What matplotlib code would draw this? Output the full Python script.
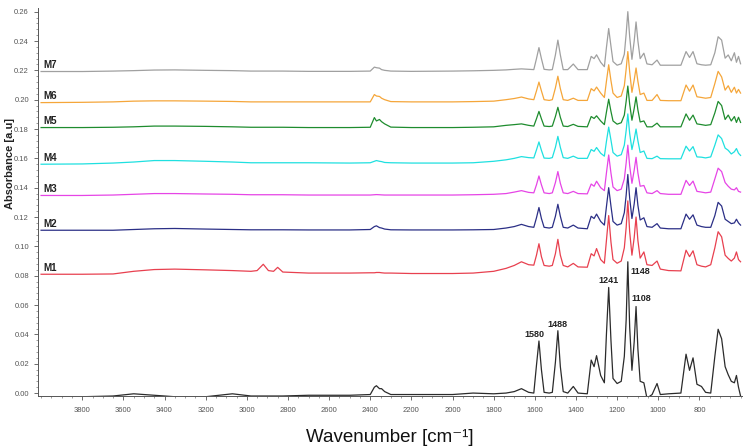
import matplotlib
matplotlib.use("Agg")
import matplotlib.pyplot as plt
from matplotlib.ticker import AutoMinorLocator, FormatStrFormatter

plt.rcParams['font.family'] = ['Liberation Sans', 'DejaVu Sans']

# wavenumbers (cm-1) shared by all spectra
wavenumber = [4000, 3800, 3650, 3550, 3450, 3350, 3200, 3070, 2980,
              2950, 2920, 2895, 2870, 2850, 2825, 2700, 2500, 2400,
              2380, 2370, 2355, 2345, 2330, 2300, 2200, 2000, 1900,
              1800, 1740, 1700, 1665, 1630, 1605, 1592, 1580, 1568, 1555, 1530,
              1515, 1500, 1488, 1476, 1462, 1440, 1413, 1390, 1345, 1326, 1312,
              1300, 1280, 1262, 1252, 1241, 1230, 1220, 1200, 1180, 1165, 1156, 1148, 1139,
              1128, 1117, 1108, 1099, 1088, 1070, 1055, 1030, 1006, 990, 950,
              890, 865, 848, 831, 812, 790, 770, 745, 725,
              709, 692, 675, 660, 645, 630, 620, 610, 600]

m0 = [-0.0025, -0.0025, -0.002, -0.0005, -0.0015, -0.0025, -0.0025, -0.0005, -0.002,
      -0.002, -0.002, -0.002, -0.002, -0.002, -0.002, -0.0015, -0.0015, -0.001,
      0.004, 0.005, 0.003, 0.003, 0.001, -0.001, -0.001, -0.001, 0.000,
      -0.0005, 0.000, 0.001, 0.003, 0.0005, 0.000, 0.019, 0.0355, 0.016, 0.0005, 0.000,
      0.0005, 0.021, 0.0425, 0.018, 0.001, 0.000, 0.0045, 0.000, -0.0005, 0.0225, 0.018,
      0.0255, 0.012, 0.007, 0.040, 0.072, 0.036, 0.010, 0.0065, 0.008, 0.025, 0.050, 0.0895, 0.045,
      0.0155, 0.035, 0.059, 0.030, 0.008, 0.007, -0.0035, -0.001, 0.0065, -0.001, -0.0005,
      0.000, 0.0265, 0.0155, 0.024, 0.006, 0.0045, 0.0005, 0.000, 0.025,
      0.0435, 0.037, 0.018, 0.0125, 0.008, 0.007, 0.012, 0.004, -0.002]

m1 = [0.081, 0.081, 0.0812, 0.083, 0.0842, 0.0845, 0.084, 0.0835, 0.083,
      0.0835, 0.0878, 0.0835, 0.083, 0.0857, 0.0825, 0.0818, 0.0818, 0.082,
      0.082, 0.0822, 0.0822, 0.082, 0.0818, 0.0818, 0.0815, 0.0815, 0.0818,
      0.083, 0.085, 0.087, 0.0895, 0.0875, 0.0872, 0.094, 0.1018, 0.093, 0.087, 0.0865,
      0.087, 0.095, 0.1048, 0.094, 0.087, 0.086, 0.0884, 0.086, 0.0858, 0.095, 0.0935,
      0.0985, 0.091, 0.0885, 0.104, 0.121, 0.103, 0.091, 0.0885, 0.090, 0.099, 0.113, 0.131, 0.110,
      0.094, 0.106, 0.120, 0.104, 0.092, 0.0962, 0.0875, 0.087, 0.090, 0.0845, 0.0835,
      0.0833, 0.0974, 0.093, 0.097, 0.0875, 0.0865, 0.086, 0.0875, 0.099,
      0.110, 0.1065, 0.094, 0.0918, 0.090, 0.092, 0.0962, 0.091, 0.0895]

m2 = [0.111, 0.111, 0.111, 0.1115, 0.112, 0.1122, 0.1118, 0.1115, 0.1113,
      0.1113, 0.1113, 0.1113, 0.1113, 0.1113, 0.1113, 0.1112, 0.1112, 0.1115,
      0.1135, 0.114, 0.1128, 0.1125, 0.1118, 0.1113, 0.1112, 0.1112, 0.1113,
      0.1115, 0.1125, 0.1135, 0.115, 0.1135, 0.113, 0.1195, 0.1265, 0.119, 0.113, 0.1125,
      0.113, 0.1205, 0.1287, 0.1205, 0.113, 0.1125, 0.1145, 0.1125, 0.112, 0.1205, 0.119,
      0.122, 0.117, 0.1145, 0.127, 0.140, 0.1275, 0.117, 0.1145, 0.1155, 0.123, 0.135, 0.149, 0.133,
      0.119, 0.129, 0.140, 0.128, 0.118, 0.1195, 0.1135, 0.113, 0.1155, 0.1125, 0.112,
      0.112, 0.122, 0.1185, 0.1215, 0.1145, 0.1135, 0.113, 0.113, 0.121,
      0.130, 0.1275, 0.1185, 0.117, 0.1155, 0.116, 0.1185, 0.116, 0.1145]

m3 = [0.1347, 0.1347, 0.135, 0.1355, 0.136, 0.136, 0.1357, 0.1355, 0.1352,
      0.1352, 0.1352, 0.1352, 0.1352, 0.1352, 0.1352, 0.135, 0.135, 0.135,
      0.1352, 0.1353, 0.1352, 0.1351, 0.135, 0.135, 0.135, 0.135, 0.1352,
      0.1355, 0.136, 0.137, 0.138, 0.1368, 0.1365, 0.142, 0.148, 0.142, 0.1365, 0.136,
      0.1365, 0.1435, 0.151, 0.143, 0.1365, 0.136, 0.1375, 0.136, 0.1358, 0.1425, 0.141,
      0.1444, 0.140, 0.138, 0.150, 0.1623, 0.150, 0.1405, 0.138, 0.139, 0.146, 0.157, 0.169, 0.155,
      0.143, 0.152, 0.1607, 0.150, 0.141, 0.1415, 0.1365, 0.136, 0.138, 0.136, 0.1355,
      0.1355, 0.145, 0.1415, 0.1445, 0.1375, 0.137, 0.1365, 0.137, 0.146,
      0.1533, 0.151, 0.1435, 0.141, 0.139, 0.1385, 0.140, 0.1375, 0.137]

m4 = [0.156, 0.1562, 0.1568, 0.1575, 0.1585, 0.1585, 0.158, 0.1575, 0.157,
      0.157, 0.157, 0.157, 0.157, 0.157, 0.157, 0.157, 0.1568, 0.157,
      0.158, 0.1585, 0.158, 0.1578, 0.1572, 0.157, 0.1568, 0.1568, 0.157,
      0.158, 0.159, 0.160, 0.1612, 0.1605, 0.1603, 0.1658, 0.1712, 0.1655, 0.1602, 0.160,
      0.1605, 0.1675, 0.175, 0.1675, 0.1605, 0.160, 0.1615, 0.160, 0.160, 0.166, 0.1648,
      0.1674, 0.1635, 0.1615, 0.1715, 0.1813, 0.1725, 0.164, 0.1615, 0.1625, 0.169, 0.179, 0.1903, 0.177,
      0.166, 0.173, 0.180, 0.172, 0.164, 0.165, 0.160, 0.1598, 0.1615, 0.1598, 0.1597,
      0.1597, 0.1683, 0.165, 0.168, 0.161, 0.1608, 0.1603, 0.161, 0.169,
      0.176, 0.1735, 0.167, 0.1655, 0.163, 0.1645, 0.1667, 0.1635, 0.162]

m5 = [0.181, 0.181, 0.1812, 0.1815, 0.182, 0.182, 0.1818, 0.1815, 0.1812,
      0.1812, 0.1812, 0.1812, 0.1812, 0.1812, 0.1812, 0.181, 0.181, 0.1812,
      0.1878, 0.1855, 0.1865, 0.185, 0.1835, 0.1813, 0.181, 0.181, 0.1812,
      0.1815, 0.1825, 0.183, 0.1835, 0.1825, 0.182, 0.187, 0.192, 0.187, 0.182, 0.1817,
      0.182, 0.1885, 0.1948, 0.188, 0.182, 0.1817, 0.1832, 0.1818, 0.1815, 0.1885, 0.1872,
      0.189, 0.1855, 0.183, 0.1915, 0.2003, 0.192, 0.1855, 0.1833, 0.1843, 0.1895, 0.199, 0.2093, 0.197,
      0.186, 0.194, 0.2019, 0.193, 0.1848, 0.1855, 0.1815, 0.1815, 0.184, 0.1815, 0.1815,
      0.1815, 0.1903, 0.186, 0.1895, 0.1835, 0.183, 0.1825, 0.183, 0.191,
      0.1988, 0.196, 0.1865, 0.1895, 0.1855, 0.1885, 0.1845, 0.188, 0.1845]

m6 = [0.198, 0.1982, 0.1985, 0.199, 0.1992, 0.1992, 0.199, 0.1988, 0.1985,
      0.1985, 0.1985, 0.1985, 0.1985, 0.1985, 0.1985, 0.1985, 0.1985, 0.1985,
      0.2035, 0.2025, 0.2022, 0.201, 0.200, 0.1987, 0.1985, 0.1985, 0.1987,
      0.199, 0.200, 0.2008, 0.2018, 0.2005, 0.200, 0.206, 0.212, 0.206, 0.200, 0.1995,
      0.200, 0.208, 0.216, 0.2075, 0.200, 0.1995, 0.201, 0.1995, 0.1995, 0.2075, 0.206,
      0.2086, 0.2045, 0.2015, 0.2125, 0.2238, 0.213, 0.2045, 0.2015, 0.2025, 0.2095, 0.221, 0.2328, 0.219,
      0.205, 0.2135, 0.2216, 0.2125, 0.2035, 0.2045, 0.1995, 0.1995, 0.2035, 0.1995, 0.1993,
      0.1993, 0.210, 0.2058, 0.210, 0.202, 0.2015, 0.201, 0.2015, 0.211,
      0.2193, 0.2155, 0.2065, 0.2095, 0.205, 0.2085, 0.2045, 0.207, 0.2045]

m7 = [0.2192, 0.2192, 0.2195, 0.2198, 0.2202, 0.2203, 0.220, 0.2198, 0.2195,
      0.2195, 0.2195, 0.2195, 0.2195, 0.2195, 0.2195, 0.2193, 0.2193, 0.2195,
      0.2222, 0.2218, 0.2215, 0.2205, 0.220, 0.2195, 0.2193, 0.2195, 0.2197,
      0.220, 0.2203, 0.2207, 0.221, 0.2207, 0.2205, 0.228, 0.2355, 0.228, 0.2207, 0.2203,
      0.2205, 0.2305, 0.2406, 0.2305, 0.2205, 0.2205, 0.2243, 0.2205, 0.2205, 0.2295, 0.228,
      0.2306, 0.2255, 0.2225, 0.2355, 0.2485, 0.2365, 0.226, 0.2235, 0.2245, 0.231, 0.245, 0.260, 0.243,
      0.2275, 0.240, 0.253, 0.240, 0.228, 0.2317, 0.2244, 0.2238, 0.227, 0.2235, 0.2235,
      0.2235, 0.2328, 0.2288, 0.2328, 0.2245, 0.2238, 0.2235, 0.2238, 0.232,
      0.2429, 0.2406, 0.2283, 0.2305, 0.2265, 0.232, 0.2255, 0.2295, 0.2245]

names = ['M0', 'M1', 'M2', 'M3', 'M4', 'M5', 'M6', 'M7']
spectra = [m0, m1, m2, m3, m4, m5, m6, m7]
colors = ['#2b2b2b', '#e8404f', '#2b2f86', '#e645e6', '#1fe0e0', '#1e8c2e', '#f5a63a', '#a0a0a0']

# peaks marked on M0
peak_labels = [1580, 1488, 1241, 1148, 1108]

for s in spectra:
    assert len(s) == len(wavenumber)

fig = plt.figure(figsize=(7.51, 4.47), dpi=100)
ax = fig.add_axes([38 / 751, 51 / 447, 704 / 751, 388 / 447])

for name, s, c in zip(names, spectra, colors):
    ax.plot(wavenumber, s, color=c, lw=0.9)
    ax.annotate(name, (wavenumber[0], s[0]), xytext=(2, 1), textcoords='offset points',
                ha='left', va='bottom', fontsize=7, fontweight='bold', color='#222222')

# peak labels: (x offset pt, y offset pt, ha, va)
label_pos = {1580: (-3.5, 1.5, 'center', 'bottom'),
             1488: (0, 1.5, 'center', 'bottom'),
             1241: (0, 1.5, 'center', 'bottom'),
             1148: (2, -7, 'left', 'center'),
             1108: (3.5, 2.5, 'center', 'bottom')}
for p in peak_labels:
    i = wavenumber.index(p)
    dx, dy, ha, va = label_pos[p]
    ax.annotate(str(p), (p, m0[i]), xytext=(dx, dy), textcoords='offset points',
                ha=ha, va=va, fontsize=6.5, fontweight='bold', color='#222222')

ax.set_xlim(4015, 593)
ax.set_ylim(-0.002, 0.2625)
ax.set_xticks(list(range(3800, 799, -200)))
ax.set_yticks([i * 0.02 for i in range(14)])
ax.yaxis.set_major_formatter(FormatStrFormatter('%.2f'))
ax.xaxis.set_minor_locator(AutoMinorLocator(4))
ax.yaxis.set_minor_locator(AutoMinorLocator(5))
ax.tick_params(axis='both', which='major', labelsize=5.5, labelcolor='#555555',
               color='#555555', length=3, width=0.6)
ax.tick_params(axis='both', which='minor', color='#777777', length=1.5, width=0.5)
ax.tick_params(axis='x', pad=5)

for side in ['top', 'right']:
    ax.spines[side].set_visible(False)
for side in ['left', 'bottom']:
    ax.spines[side].set_color('#555555')
    ax.spines[side].set_linewidth(0.7)

ax.set_xlabel('Wavenumber [cm\u207b\u00b9]', fontsize=13.5, color='#111111')
ax.xaxis.set_label_coords(0.5, -0.085)
ax.set_ylabel('Absorbance [a.u]', fontsize=8, fontweight='bold', color='#222222')
ax.yaxis.set_label_coords(-0.033, 0.6)

fig.savefig('out.png', dpi=100)
